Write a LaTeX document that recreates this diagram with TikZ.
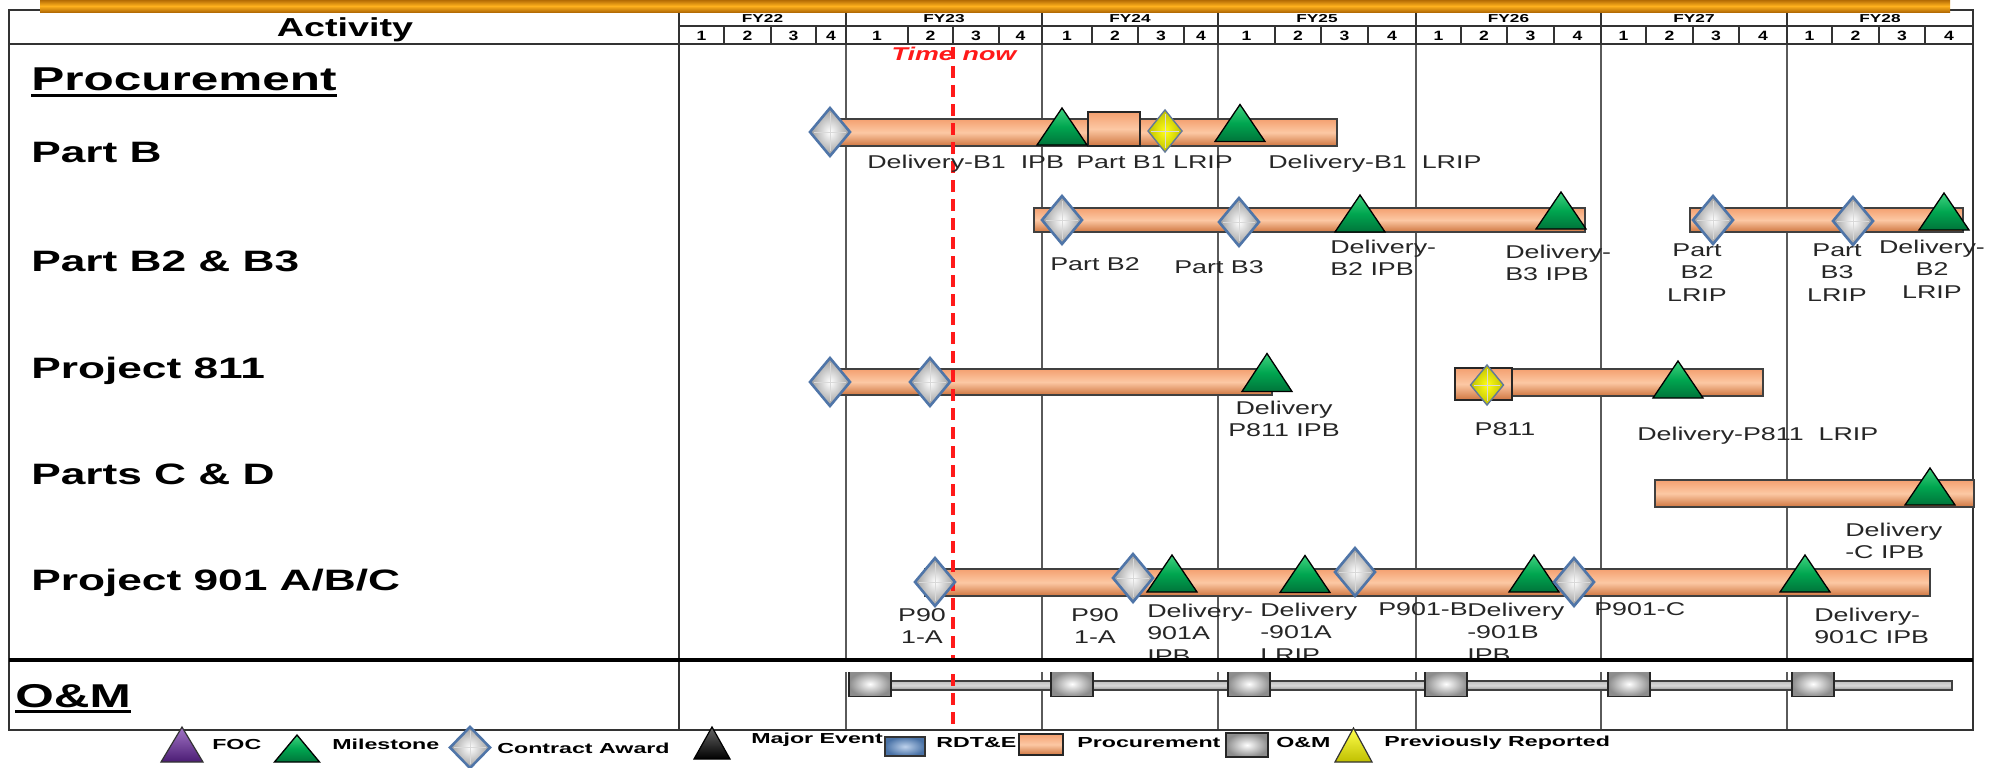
\documentclass[tikz,border=0pt]{standalone}
\usepackage{fontspec}
\setmainfont{Liberation Sans}
\usetikzlibrary{calc}
\definecolor{barO}{HTML}{F4A070}
\definecolor{barOl}{HTML}{FCC8A4}
\definecolor{barOd}{HTML}{CF7640}
\definecolor{msG}{HTML}{00A650}
\definecolor{msGl}{HTML}{3FD27F}
\definecolor{msGd}{HTML}{00743A}
\definecolor{caB}{HTML}{4F75A8}
\definecolor{gridc}{HTML}{5A5A5A}
\definecolor{frm}{HTML}{333333}
\definecolor{topO}{HTML}{FFB21E}
\definecolor{topOd}{HTML}{A86000}
\definecolor{purp}{HTML}{7A3AAE}
\definecolor{purpd}{HTML}{4B1C74}
\definecolor{rdtB}{HTML}{5C8FD0}
\definecolor{tnred}{HTML}{FF1A1A}
\tikzset{
  frame/.style={draw=frm, line width=1.6pt},
  vline/.style={draw=gridc, line width=1.8pt},
  hdr/.style={font=\fontsize{26}{30}\selectfont\bfseries, xscale=1.45, inner sep=0, anchor=base},
  fy/.style={font=\fontsize{11.5}{13}\selectfont\bfseries, xscale=1.5, inner sep=0, anchor=base},
  qtr/.style={font=\fontsize{13.5}{15}\selectfont\bfseries, xscale=1.3, inner sep=0, anchor=base},
  sect/.style={font=\fontsize{33}{36}\selectfont\bfseries, xscale=1.5, inner sep=0, anchor=base west},
  rowlbl/.style={font=\fontsize{29.5}{32}\selectfont\bfseries, xscale=1.5, inner sep=0, anchor=base west},
  lbl/.style={font=\fontsize{18.5}{22.5}\selectfont, xscale=1.45, inner sep=0, text=black!85},
  leg/.style={font=\fontsize{14.5}{16}\selectfont\bfseries, xscale=1.6, inner sep=0, anchor=base west},
  tnow/.style={font=\fontsize{18.5}{20}\selectfont\bfseries\itshape, xscale=1.45, inner sep=0, anchor=base, text=tnred},
  obar/.style={draw=black!75, line width=1.3pt, top color=barO, bottom color=barOd, middle color=barOl},
  mst/.style={draw=black, line width=1.3pt, top color=msGl, bottom color=msGd, middle color=msG},
  cast/.style={draw=caB, line width=2.6pt, inner color=white, outer color=gray!78},
  yst/.style={draw=caB!60!gray, line width=1.4pt, inner color=yellow!90!white, outer color=yellow!75!black},
  gst/.style={draw=black!85, line width=1.6pt, inner color=white, outer color=gray!90},
  ost/.style={draw=black!85, line width=1.4pt, top color=barO, bottom color=barOd, middle color=barOl},
  pst/.style={draw=black!80, line width=1.2pt, top color=purp!70!white, bottom color=purpd},
  kst/.style={draw=black, line width=1.2pt, top color=black!60, bottom color=black},
  bst/.style={draw=black!80, line width=1.4pt, inner color=rdtB!40!white, outer color=rdtB!80!black},
  pyst/.style={draw=black!80, line width=1.2pt, top color=yellow!70, bottom color=yellow!75!black},
  pics/tri/.style n args={3}{code={\shade[#3] (-#1,-#2) -- (0,#2) -- (#1,-#2) -- cycle;}},
  pics/dia/.style n args={3}{code={\shade[#3] (-#1,0) -- (0,#2) -- (#1,0) -- (0,-#2) -- cycle;
     \draw[white!70!gray, line width=0.6pt] (-#1*0.8,0) -- (#1*0.8,0) (0,#2*0.8) -- (0,-#2*0.8);}},
  pics/box/.style n args={3}{code={\shade[#3] (-#1,-#2) rectangle (#1,#2);}},
}
\begin{document}
\begin{tikzpicture}[x=1pt,y=1pt]
\useasboundingbox (0,0) rectangle (1990,-768);
\fill[white] (0,0) rectangle (1990,-768);

% ---------- grid ----------
\foreach \x in {846,1042,1218,1416,1601,1787} \draw[vline] (\x,-44) -- (\x,-730);
\draw[frame] (9,-10) rectangle (1973,-730);
\draw[frame] (679,-10) -- (679,-730);
\draw[frame] (9,-44) -- (1973,-44);
\draw[frame] (679,-26) -- (1973,-26);
\foreach \x in {846,1042,1218,1416,1601,1787} \draw[frame] (\x,-10) -- (\x,-44);
\foreach \x in {724,771,816,908,953,999,1092,1138,1184,1275,1321,1368,1461,1507,1554,1646,1693,1739,1832,1879,1925}
  \draw[frame] (\x,-26) -- (\x,-44);

% top orange band
\shade[top color=topOd, bottom color=topOd, middle color=topO] (40,1) rectangle (1950,-13);

% ---------- header ----------
\node[hdr] (act) at (345,-37) {Activity};
\foreach \x/\t in {762.5/FY22,944/FY23,1130/FY24,1317/FY25,1508.5/FY26,1694/FY27,1880/FY28}
  \node[fy] (h\t) at (\x,-23) {\t};
\foreach \x/\q [count=\i] in {701.5/1,747.5/2,793.5/3,831/4,877/1,930.5/2,976/3,1020.5/4,1067/1,1115/2,1161/3,1201/4,1246.5/1,1298/2,1344.5/3,1392/4,1438.5/1,1484/2,1530.5/3,1577.5/4,1623.5/1,1669.5/2,1716/3,1763/4,1809.5/1,1855.5/2,1902/3,1949/4}
  \node[qtr] (q\i) at (\x,-41) {\q};

% ---------- row labels ----------
\node[sect] (proc) at (31,-91) {Procurement};
\draw[line width=3pt] ($(proc.base west)+(0,-4.5)$) -- ($(proc.base east)+(0,-4.5)$);
\node[rowlbl] (rpb) at (31,-162) {Part B};
\node[rowlbl] (rpb2) at (31,-271) {Part B2 \& B3};
\node[rowlbl] (rp811) at (31,-378) {Project 811};
\node[rowlbl] (rpcd) at (31,-484) {Parts C \& D};
\node[rowlbl] (rp901) at (31,-590) {Project 901 A/B/C};
\node[sect] (om) at (15,-707) {O\&M};
\draw[line width=3pt] ($(om.base west)+(0,-4.5)$) -- ($(om.base east)+(0,-4.5)$);

% ---------- bars ----------
\draw[obar] (825,-119) rectangle (1337,-146);
\draw[obar] (1034,-208) rectangle (1585,-232);
\draw[obar] (1690,-208) rectangle (1963,-232);
\draw[obar] (825,-369) rectangle (1272,-395);
\draw[obar] (1458,-369) rectangle (1763,-396);
\draw[obar] (1655,-480) rectangle (1974,-507);
\draw[obar] (925,-569) rectangle (1930,-596);
\pic at (1114,-129) {box={26}{17}{ost}};
\pic at (1483.5,-384) {box={28.5}{16}{ost}};

% O&M line
\draw[draw=black!75, line width=1.2pt, top color=gray!50, bottom color=gray!85, middle color=gray!30] (870,-681) rectangle (1952,-690);

% ---------- time now ----------
\node[tnow] (tn) at (954,-60) {Time\,\,now};
\draw[tnred, line width=3.5pt, dash pattern=on 12pt off 7pt] (953,-47) -- (953,-730);

% ---------- markers ----------
% Part B
\pic at (830,-132) {dia={20}{24}{cast}};
\pic at (1062,-126.5) {tri={25}{18.5}{mst}};
\pic at (1165,-131) {dia={17}{21}{yst}};
\pic at (1240,-123) {tri={25}{18.5}{mst}};
% Part B2 & B3
\pic at (1062,-220) {dia={20}{24}{cast}};
\pic at (1239,-222) {dia={20}{24}{cast}};
\pic at (1360,-213.5) {tri={25}{18.5}{mst}};
\pic at (1561,-210.5) {tri={25}{18.5}{mst}};
\pic at (1713,-220) {dia={20}{24}{cast}};
\pic at (1853,-221) {dia={20}{24}{cast}};
\pic at (1944,-211.5) {tri={25}{18.5}{mst}};
% Project 811
\pic at (830,-382) {dia={20}{24}{cast}};
\pic at (930,-382) {dia={20}{24}{cast}};
\pic at (1267,-372.5) {tri={25}{19}{mst}};
\pic at (1487,-385) {dia={16.5}{20}{yst}};
\pic at (1678,-379.5) {tri={25}{18.5}{mst}};
% Parts C & D
\pic at (1930,-486.5) {tri={25}{18.5}{mst}};
% Project 901
\pic at (935,-582) {dia={20}{24}{cast}};
\pic at (1133,-578) {dia={20}{24}{cast}};
\pic at (1172,-573.5) {tri={25}{18.5}{mst}};
\pic at (1305,-574) {tri={25}{18.5}{mst}};
\pic at (1355,-572) {dia={20}{24}{cast}};
\pic at (1534,-573.5) {tri={25}{18.5}{mst}};
\pic at (1574,-582) {dia={20}{24}{cast}};
\pic at (1805,-573.5) {tri={25}{18.5}{mst}};

% O&M boxes
\foreach \x in {870,1072,1249,1446,1629,1813} \pic at (\x,-684) {box={21}{12.5}{gst}};

% ---------- labels (y = baseline of last line) ----------
\node[lbl, anchor=base west] (a1) at (867,-168) {Delivery-B1\ \ IPB};
\node[lbl, anchor=base west] (a2) at (1076,-168) {Part B1 LRIP};
\node[lbl, anchor=base west] (a3) at (1268,-168) {Delivery-B1\ \ LRIP};
\node[lbl, anchor=base west] (b1) at (1050,-270) {Part B2};
\node[lbl, anchor=base west] (b2) at (1174,-273) {Part B3};
\node[lbl, anchor=base west, align=left] (b3) at (1330,-275.5) {Delivery-\\B2 IPB};
\node[lbl, anchor=base west, align=left] (b4) at (1505,-280.5) {Delivery-\\B3 IPB};
\node[lbl, anchor=base, align=center] (b5) at (1697,-301) {Part\\B2\\LRIP};
\node[lbl, anchor=base, align=center] (b6) at (1837,-301) {Part\\B3\\LRIP};
\node[lbl, anchor=base, align=center] (b7) at (1932,-298) {Delivery-\\B2\\LRIP};
\node[lbl, anchor=base, align=center] (c1) at (1284,-436.5) {Delivery\\P811 IPB};
\node[lbl, anchor=base] (c2) at (1505,-435) {P811};
\node[lbl, anchor=base west] (c3) at (1637,-440) {Delivery-P811\ \ LRIP};
\node[lbl, anchor=base west, align=left] (d1) at (1845,-558.5) {Delivery\\-C IPB};
\node[lbl, anchor=base, align=center] (e1) at (922,-643.5) {P90\\1-A};
\node[lbl, anchor=base, align=center] (e2) at (1095,-643.5) {P90\\1-A};
\node[lbl, anchor=base west, align=left] (e3) at (1147,-662) {Delivery-\\901A\\IPB};
\node[lbl, anchor=base west, align=left] (e4) at (1260,-661) {Delivery\\-901A\\LRIP};
\node[lbl, anchor=base west] (e5) at (1378,-615) {P901-B};
\node[lbl, anchor=base west, align=left] (e6) at (1467,-661) {Delivery\\-901B\\IPB};
\node[lbl, anchor=base west] (e7) at (1594,-615) {P901-C};
\node[lbl, anchor=base west, align=left] (e8) at (1814,-643.5) {Delivery-\\901C IPB};

% thick separator, hiding the lower part of the clipped labels
\fill[white] (680,-662) rectangle (1972,-672);
\draw[line width=3.5pt] (9,-660) -- (1973,-660);

% ---------- legend ----------
\pic at (182,-744.5) {tri={21}{17.5}{pst}};
\node[leg] (lg1) at (212,-749) {FOC};
\pic at (297,-748.5) {tri={22.5}{13.5}{mst}};
\node[leg] (lg2) at (332,-749) {Milestone};
\pic at (470,-747.5) {dia={20}{20.5}{cast}};
\node[leg] (lg3) at (497,-753) {Contract Award};
\pic at (712,-743) {tri={18}{16}{kst}};
\node[leg] (lg4) at (751,-743) {Major Event};
\pic at (905,-746.5) {box={20}{9.5}{bst}};
\node[leg] (lg5) at (936,-747) {RDT\&E};
\pic at (1041,-744.5) {box={22}{10.5}{ost}};
\node[leg] (lg6) at (1077,-747) {Procurement};
\pic at (1247,-745) {box={21}{12}{gst}};
\node[leg] (lg7) at (1276,-747) {O\&M};
\pic at (1353.5,-745) {tri={18.5}{17}{pyst}};
\node[leg] (lg8) at (1384,-746) {Previously Reported};
\end{tikzpicture}
\end{document}
